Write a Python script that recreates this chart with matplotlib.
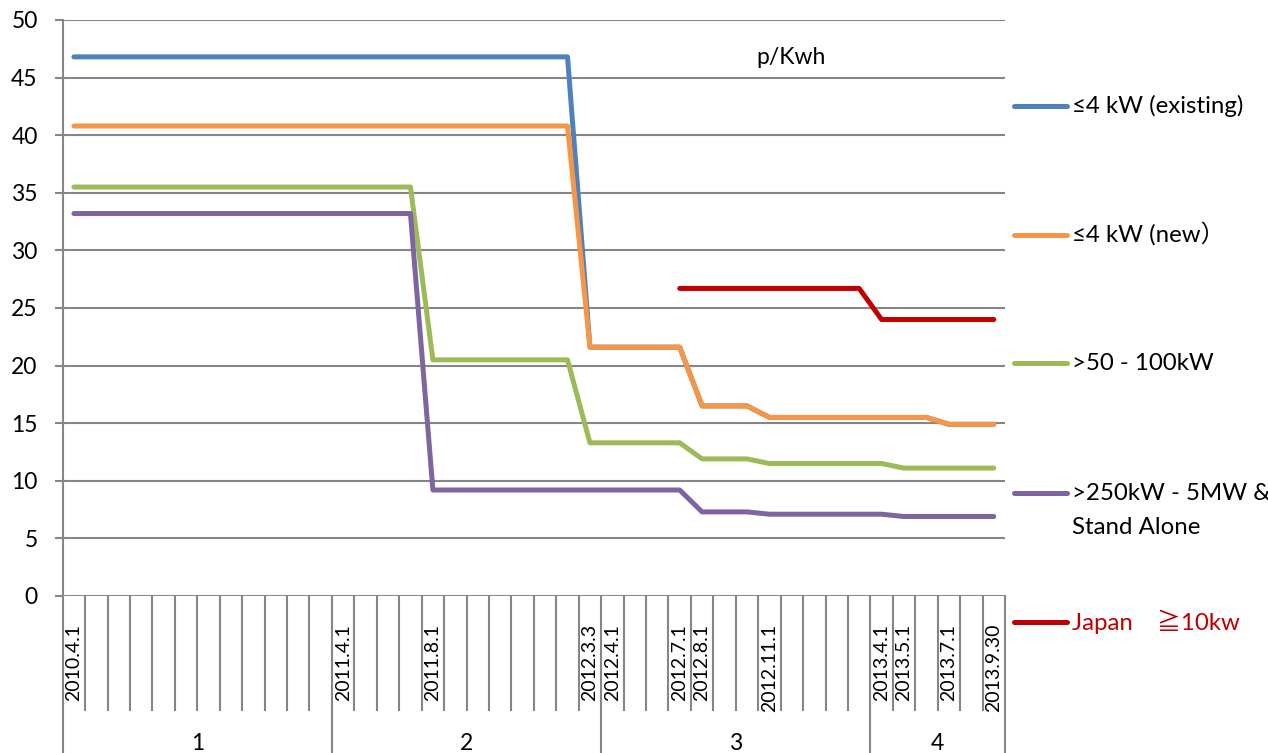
import numpy as np
import matplotlib.pyplot as plt
from matplotlib.lines import Line2D

plt.rcParams['font.family'] = ['Lato', 'Noto Sans CJK JP', 'DejaVu Sans']

nan = np.nan

# one slot per month-ish step, only some of them carry a date
dates = ['2010.4.1', '', '', '', '', '', '', '', '', '', '', '',
         '2011.4.1', '', '', '', '2011.8.1', '', '', '', '', '', '', '2012.3.3',
         '2012.4.1', '', '', '2012.7.1', '2012.8.1', '', '', '2012.11.1', '', '', '', '',
         '2013.4.1', '2013.5.1', '', '2013.7.1', '', '2013.9.30']
groups = ['1', '2', '3', '4']
group_sizes = [12, 12, 12, 6]

existing_4kw = [46.8, 46.8, 46.8, 46.8, 46.8, 46.8, 46.8, 46.8, 46.8, 46.8, 46.8, 46.8,
                46.8, 46.8, 46.8, 46.8, 46.8, 46.8, 46.8, 46.8, 46.8, 46.8, 46.8, 21.6,
                21.6, 21.6, 21.6, 21.6, 16.5, 16.5, 16.5, 15.5, 15.5, 15.5, 15.5, 15.5,
                15.5, 15.5, 15.5, 14.9, 14.9, 14.9]
new_4kw = [40.8, 40.8, 40.8, 40.8, 40.8, 40.8, 40.8, 40.8, 40.8, 40.8, 40.8, 40.8,
           40.8, 40.8, 40.8, 40.8, 40.8, 40.8, 40.8, 40.8, 40.8, 40.8, 40.8, 21.6,
           21.6, 21.6, 21.6, 21.6, 16.5, 16.5, 16.5, 15.5, 15.5, 15.5, 15.5, 15.5,
           15.5, 15.5, 15.5, 14.9, 14.9, 14.9]
kw_50_100 = [35.5, 35.5, 35.5, 35.5, 35.5, 35.5, 35.5, 35.5, 35.5, 35.5, 35.5, 35.5,
             35.5, 35.5, 35.5, 35.5, 20.5, 20.5, 20.5, 20.5, 20.5, 20.5, 20.5, 13.3,
             13.3, 13.3, 13.3, 13.3, 11.9, 11.9, 11.9, 11.5, 11.5, 11.5, 11.5, 11.5,
             11.5, 11.1, 11.1, 11.1, 11.1, 11.1]
kw_250_5mw = [33.2, 33.2, 33.2, 33.2, 33.2, 33.2, 33.2, 33.2, 33.2, 33.2, 33.2, 33.2,
              33.2, 33.2, 33.2, 33.2, 9.2, 9.2, 9.2, 9.2, 9.2, 9.2, 9.2, 9.2,
              9.2, 9.2, 9.2, 9.2, 7.3, 7.3, 7.3, 7.1, 7.1, 7.1, 7.1, 7.1,
              7.1, 6.9, 6.9, 6.9, 6.9, 6.9]
japan_10kw = [nan, nan, nan, nan, nan, nan, nan, nan, nan, nan, nan, nan,
              nan, nan, nan, nan, nan, nan, nan, nan, nan, nan, nan, nan,
              nan, nan, nan, 26.7, 26.7, 26.7, 26.7, 26.7, 26.7, 26.7, 26.7, 26.7,
              24.0, 24.0, 24.0, 24.0, 24.0, 24.0]

series = [
    (existing_4kw, '#4F81BD', '≤4 kW (existing)', 'black'),
    (new_4kw, '#F79646', '≤4 kW (new）', 'black'),
    (kw_50_100, '#9BBB59', '>50 - 100kW', 'black'),
    (kw_250_5mw, '#8064A2', '>250kW - 5MW &\nStand Alone', 'black'),
    (japan_10kw, '#C00000', 'Japan　≧10kw', '#C00000'),
]

W, H = 1268, 753
grid_col = '#868686'

fig = plt.figure(figsize=(W / 100, H / 100), dpi=100)
x0, x1, y0, y1 = 62.7, 1005, 20, 596
ax = fig.add_axes([x0 / W, 1 - y1 / H, (x1 - x0) / W, (y1 - y0) / H])

x = np.arange(len(dates))
for vals, col, name, tcol in series:
    ax.plot(x, vals, color=col, lw=3.6, solid_capstyle='round',
            solid_joinstyle='round', zorder=3)

ax.set_xlim(-0.5, len(dates) - 0.5)
ax.set_ylim(0, 50)
ax.set_yticks(np.arange(0, 51, 5))
ax.grid(axis='y', color=grid_col, lw=1.5, zorder=1)
for s in ['top', 'right', 'bottom']:
    ax.spines[s].set_visible(False)
ax.spines['left'].set_color(grid_col)
ax.spines['left'].set_linewidth(1.5)
ax.tick_params(axis='y', length=6, width=1.5, color=grid_col, pad=12,
               labelsize=16.5)

ax.set_xticks(x, dates, rotation=90)
ax.tick_params(axis='x', length=0, pad=20, labelsize=14)

# category dividers below the axis, group dividers run to the bottom
trans = ax.get_xaxis_transform()
short_y = -(710 - y1) / (y1 - y0)
long_y = -(H - y1) / (y1 - y0)
edges = np.cumsum([0] + group_sizes) - 0.5
for b in np.arange(len(dates) + 1) - 0.5:
    bottom = long_y if b in edges else short_y
    ax.plot([b, b], [0, bottom], transform=trans, color=grid_col, lw=1.5,
            clip_on=False)
for i, g in enumerate(groups):
    mid = (edges[i] + edges[i + 1]) / 2
    ax.text(mid, -(743 - y1) / (y1 - y0), g, transform=trans, ha='center',
            va='center', fontsize=16.5)

ax.text(0.773, 1 - (57 - y0) / (y1 - y0), 'p/Kwh', transform=ax.transAxes,
        ha='center', va='center', fontsize=16.5)

# legend on the right, laid out in pixels
lax = fig.add_axes([0, 0, 1, 1])
lax.set_xlim(0, W)
lax.set_ylim(H, 0)
lax.axis('off')
leg_y = [106, 235, 363, 493, 622]
for (vals, col, name, tcol), ly in zip(series, leg_y):
    lax.add_line(Line2D([1014, 1067], [ly, ly], color=col, lw=3.6,
                        solid_capstyle='round'))
    for k, part in enumerate(name.split('\n')):
        lax.text(1072, ly + k * 34, part, color=tcol, fontsize=17.3,
                 va='center', ha='left')

fig.savefig('out.png', dpi=100)
